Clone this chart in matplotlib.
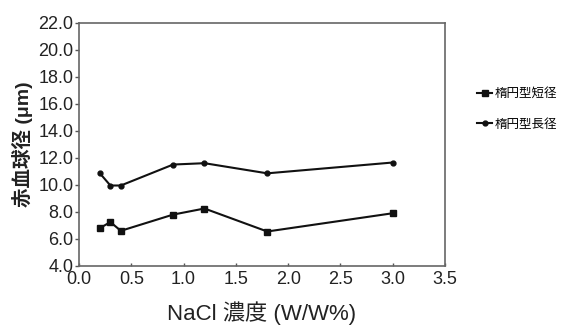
import matplotlib.pyplot as plt

plt.rcParams['font.family'] = ['Liberation Sans', 'Noto Sans CJK JP', 'DejaVu Sans']

nacl = [0.2, 0.3, 0.4, 0.9, 1.2, 1.8, 3.0]
short_axis = [6.8, 7.25, 6.6, 7.8, 8.25, 6.55, 7.9]
long_axis = [10.85, 9.95, 9.95, 11.5, 11.6, 10.85, 11.65]
labels = ['楕円型短径', '楕円型長径']

fig = plt.figure(figsize=(5.66, 3.26), dpi=100)
ax = fig.add_axes([79 / 566, 1 - 266 / 326, (445 - 79) / 566, (266 - 22.5) / 326])

ax.plot(nacl, short_axis, '-s', color='#111111', lw=1.5, ms=5, label=labels[0])
ax.plot(nacl, long_axis, '-o', color='#111111', lw=1.5, ms=3.5, label=labels[1])

ax.set_xlim(0, 3.5)
ax.set_ylim(4, 22)
ax.set_xticks([0, 0.5, 1.0, 1.5, 2.0, 2.5, 3.0, 3.5])
ax.set_yticks(range(4, 23, 2))
ax.set_xticklabels(['%.1f' % v for v in ax.get_xticks()], fontsize=13, color='#222222')
ax.set_yticklabels(['%.1f' % v for v in ax.get_yticks()], fontsize=13, color='#222222')
ax.tick_params(axis='x', direction='in', length=2, width=1, color='#555555', pad=3.5)
ax.tick_params(axis='y', direction='out', length=3, width=1, color='#555555', pad=1)
for s in ax.spines.values():
    s.set_color('#666666')
    s.set_linewidth(1.2)

ax.set_xlabel('NaCl 濃度 (W/W%)', fontsize=16, labelpad=10, color='#222222')
ax.set_ylabel('赤血球径 (μm)', fontsize=14, labelpad=4, color='#222222',
              fontweight='bold')

ax.legend(loc='upper left', bbox_to_anchor=(1.088, 0.735), frameon=False,
          handlelength=1.2, handletextpad=0.2, labelspacing=1.4,
          borderaxespad=0, borderpad=0,
          prop={'family': ['Noto Sans CJK JP'], 'size': 9})

fig.savefig('out.png', dpi=100)
